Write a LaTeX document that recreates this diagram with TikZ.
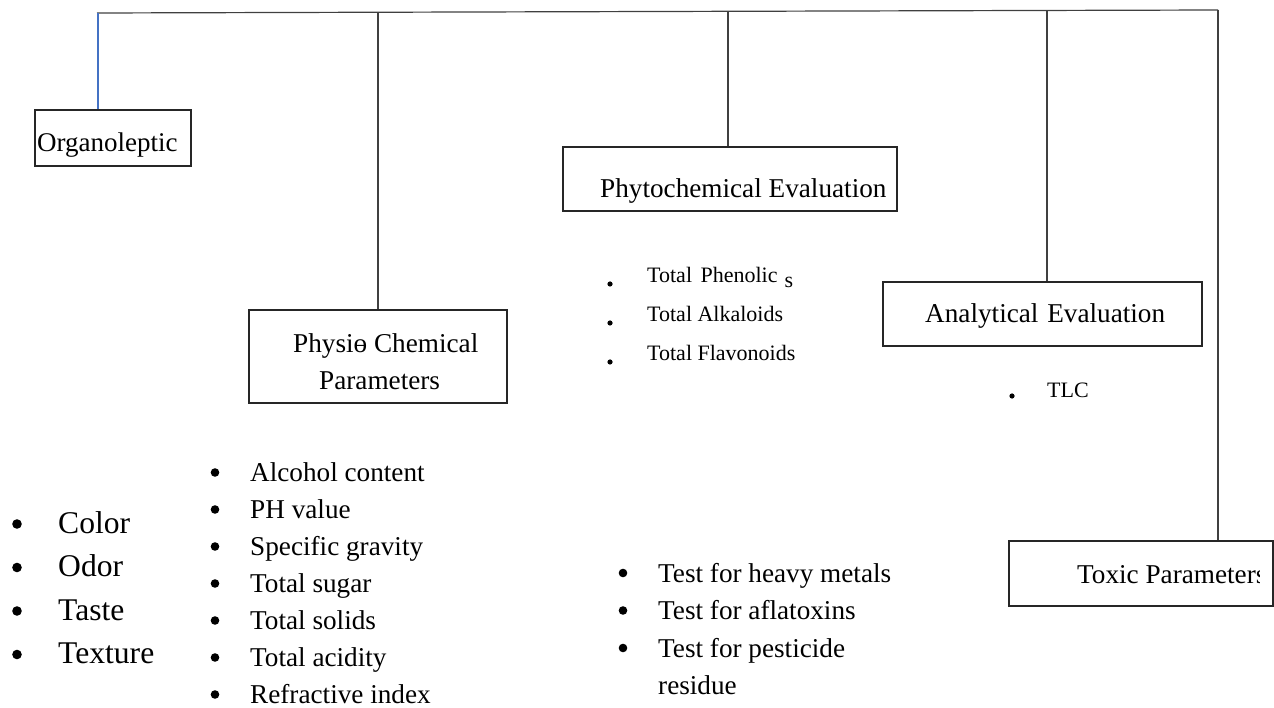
\documentclass[tikz,border=0pt]{standalone}
\usepackage{fontspec}
\setmainfont{Liberation Serif}
\begin{document}
\begin{tikzpicture}[x=1pt,y=-1pt,
  box/.style={draw=black!85,line width=2pt,inner sep=0pt},
  conn/.style={draw=black!75,line width=1.2pt},
  lbl/.style={anchor=base west,inner sep=0pt,font=\fontsize{27.2}{32}\selectfont},
  big/.style={anchor=base west,inner sep=0pt,font=\fontsize{31.6}{38}\selectfont},
  small/.style={anchor=base west,inner sep=0pt,font=\fontsize{22}{26}\selectfont},
  dot/.style={fill=black}]
\useasboundingbox (0,0) rectangle (1274,708);
% boxes
\node[box,minimum width=156,minimum height=56] (org) at (113,138) {};
\node[lbl,font=\fontsize{27}{32}\selectfont] at (37,152) {Organoleptic};
\node[box,minimum width=258,minimum height=93] (phys) at (378,356.5) {};
\node[lbl] at (293,353) {Physi\char"0275{} Chemical};
\node[lbl] at (319,389) {Parameters};
\node[box,minimum width=334,minimum height=64] (phyto) at (730,179) {};
\node[lbl] at (600,198) {Phytochemical Evaluation};
\node[box,minimum width=319,minimum height=64] (anal) at (1042.5,314) {};
\node[lbl] at (925,323) {Analytical\hspace{2pt} Evaluation};
\node[box,minimum width=264,minimum height=65] (tox) at (1141,573.5) {};
\begin{scope}
\clip (1000,530) rectangle (1259,620);
\node[lbl] at (1077,583) {Toxic Parameters};
\end{scope}
% connectors
\coordinate (tl) at (97,13);
\coordinate (tr) at (1218,10);
\coordinate (c1) at (98,13);
\coordinate (c2) at (378,13);
\coordinate (c3) at (728,12);
\coordinate (c4) at (1047,11);
\draw[conn] (tl) -- (tr);
\draw[draw={rgb,255:red,68;green,114;blue,196},line width=1.2pt] (c1) -- (c1 |- org.north);
\draw[conn] (c2) -- (c2 |- phys.north);
\draw[conn] (c3) -- (c3 |- phyto.north);
\draw[conn] (c4) -- (c4 |- anal.north);
\draw[conn] (tr) -- (tr |- tox.north);
% organoleptic list
\foreach \t [count=\i from 0] in {Color,Odor,Taste,Texture}{
  \fill (17,{524+43.5*\i}) circle (4.8);
  \node[big] at (58,{533+43.5*\i}) {\t};
}
% physio list
\foreach \t [count=\i from 0] in {Alcohol content,PH value,Specific gravity,Total sugar,Total solids,Total acidity,Refractive index}{
  \fill (215,{472.5+37*\i}) circle (4.3);
  \node[lbl] at (250,{481+37*\i}) {\t};
}
% tests list
\foreach \t [count=\i from 0] in {Test for heavy metals,Test for aflatoxins,Test for pesticide}{
  \fill (623,{573+37.5*\i}) circle (4.3);
  \node[lbl] at (658,{582+37.5*\i}) {\t};
}
\node[lbl] at (658,694) {residue};
% phyto list
\fill (610,284) circle (2.6);
\fill (610,323) circle (2.6);
\fill (610,362) circle (2.6);
\node[small] at (647,283) {Total\hspace{3pt} Phenolic\hspace{7pt}\raisebox{-5pt}{s}};
\node[small] at (647,322) {Total Alkaloids};
\node[small] at (647,360) {Total Flavonoids};
% TLC
\fill (1012,396) circle (2.6);
\node[small] at (1047,397) {TLC};
\end{tikzpicture}
\end{document}
